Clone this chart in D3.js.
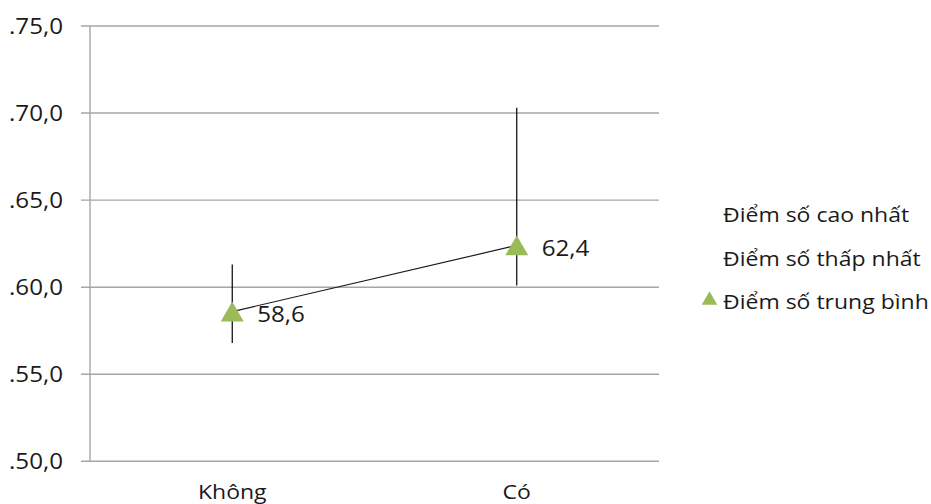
<!DOCTYPE html>
<html><head><meta charset="utf-8">
<script src="https://cdn.jsdelivr.net/npm/d3@7"></script>
<style>body{margin:0;background:#fff}svg{display:block}text{font-family:"Open Sans",sans-serif;fill:#1a1a1a}</style>
</head><body><svg id="c" width="931" height="504"></svg>
<script>
const categories = ["Không", "Có"];
const highValues = [61.3, 70.3];
const lowValues = [56.8, 60.1];
const meanValues = [58.6, 62.4];
const meanLabels = ["58,6", "62,4"];
const tickValues = [50, 55, 60, 65, 70, 75];
const tickLabels = [".50,0", ".55,0", ".60,0", ".65,0", ".70,0", ".75,0"];
const legendLabels = ["Điểm số cao nhất", "Điểm số thấp nhất", "Điểm số trung bình"];

const svg = d3.select("#c");
const x = d3.scaleBand().domain(categories).range([90, 659]);
const y = d3.scaleLinear().domain([50, 75]).range([461.3, 26]);
const green = "#9BBB59";
const SX = 1.15;

// gridlines
svg.append("g").selectAll("line").data(tickValues).join("line")
  .attr("x1", 81).attr("x2", 659)
  .attr("y1", d => y(d)).attr("y2", d => y(d))
  .attr("stroke", "#a6a6a6").attr("stroke-width", 1.4);
// axis line
svg.append("line").attr("x1", 90).attr("x2", 90).attr("y1", y(75)).attr("y2", y(50))
  .attr("stroke", "#a6a6a6").attr("stroke-width", 1.4);
// tick labels
svg.append("g").selectAll("text").data(tickValues).join("text")
  .attr("transform", d => `translate(63,${y(d)}) scale(${SX},1)`).attr("dy", "0.36em")
  .attr("text-anchor", "end").style("font-size", "21px")
  .text((d, i) => tickLabels[i]);
// category labels
svg.append("g").selectAll("text").data(categories).join("text")
  .attr("transform", d => `translate(${x(d) + x.bandwidth() / 2},498.5) scale(${SX},1)`)
  .attr("text-anchor", "middle").style("font-size", "20px")
  .text(d => d);

const cx = i => x(categories[i]) + x.bandwidth() / 2;
// whiskers
svg.append("g").selectAll("line").data(categories).join("line")
  .attr("x1", (d, i) => cx(i)).attr("x2", (d, i) => cx(i))
  .attr("y1", (d, i) => y(highValues[i])).attr("y2", (d, i) => y(lowValues[i]))
  .attr("stroke", "#000").attr("stroke-width", 1.2);
// mean line
svg.append("path")
  .attr("d", d3.line().x((d, i) => cx(i)).y(d => y(d))(meanValues))
  .attr("fill", "none").attr("stroke", "#1a1a1a").attr("stroke-width", 1.2);
// triangles (bbox centred on value)
const triSize = 229;
const triH = Math.sqrt(triSize * 4 / Math.sqrt(3)) * Math.sqrt(3) / 2;
svg.append("g").selectAll("path").data(meanValues).join("path")
  .attr("d", d3.symbol().type(d3.symbolTriangle).size(triSize)).attr("fill", green)
  .attr("transform", (d, i) => `translate(${cx(i)},${y(d) + triH / 6})`);
// labels
svg.append("g").selectAll("text").data(meanValues).join("text")
  .attr("transform", (d, i) => `translate(${cx(i) + 25},${y(d) + 3}) scale(${SX},1)`).attr("dy", "0.36em")
  .style("font-size", "21px").text((d, i) => meanLabels[i]);

// legend
const ly = [215, 259, 302];
svg.append("g").selectAll("text").data(legendLabels).join("text")
  .attr("transform", (d, i) => `translate(723,${ly[i]}) scale(${SX},1)`).attr("dy", "0.36em")
  .style("font-size", "20px").text(d => d);
const lts = 105;
const ltH = Math.sqrt(lts * 4 / Math.sqrt(3)) * Math.sqrt(3) / 2;
svg.append("path").attr("d", d3.symbol().type(d3.symbolTriangle).size(lts)())
  .attr("fill", green).attr("transform", `translate(709.5,${298 + ltH / 6})`);
</script></body></html>
